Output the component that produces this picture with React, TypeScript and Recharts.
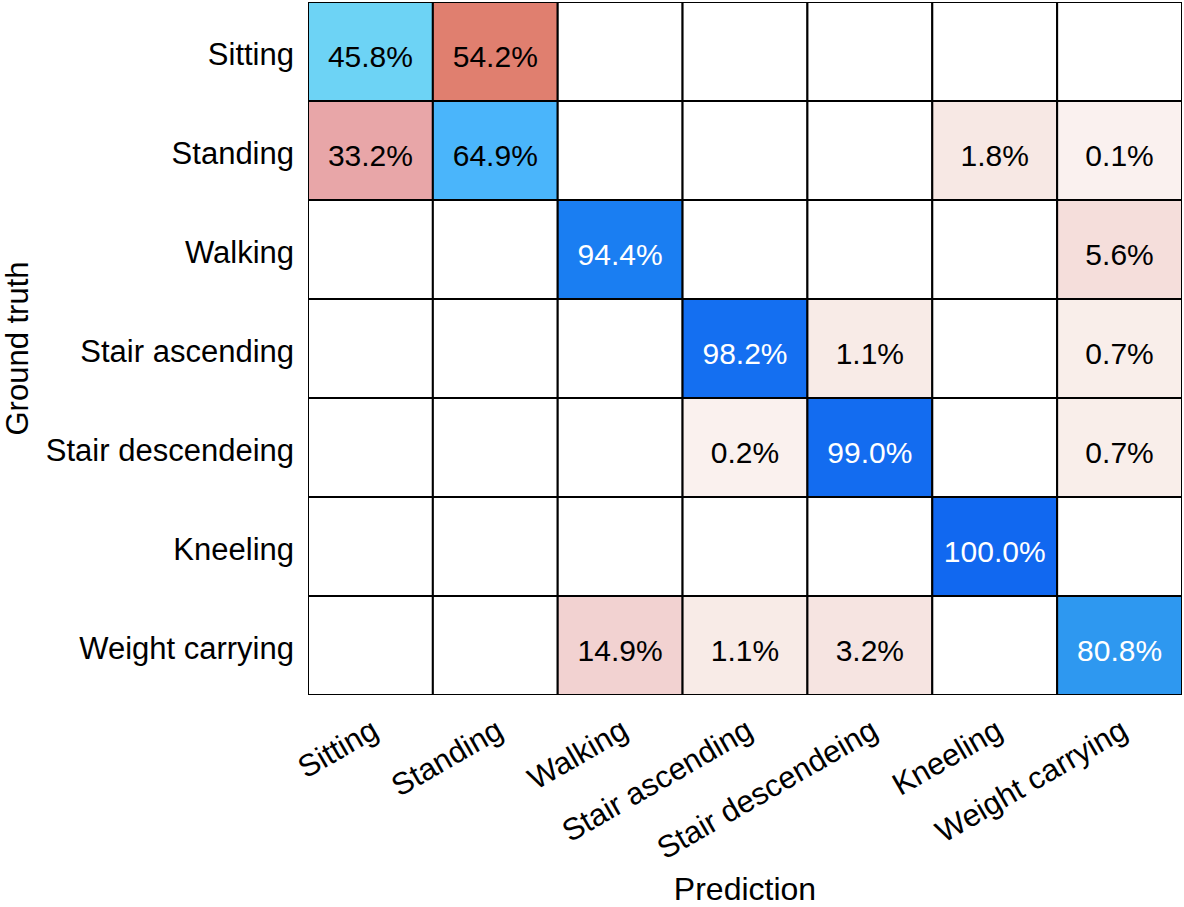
import { ScatterChart, Scatter, XAxis, YAxis } from "recharts";

const activities = [
  "Sitting",
  "Standing",
  "Walking",
  "Stair ascending",
  "Stair descendeing",
  "Kneeling",
  "Weight carrying",
];

// rows = ground truth, columns = prediction (null = empty cell)
const sitting = [45.8, 54.2, null, null, null, null, null];
const standing = [33.2, 64.9, null, null, null, 1.8, 0.1];
const walking = [null, null, 94.4, null, null, null, 5.6];
const stairAscending = [null, null, null, 98.2, 1.1, null, 0.7];
const stairDescending = [null, null, null, 0.2, 99.0, null, 0.7];
const kneeling = [null, null, null, null, null, 100.0, null];
const weightCarrying = [null, null, 14.9, 1.1, 3.2, null, 80.8];

const rows = [sitting, standing, walking, stairAscending, stairDescending, kneeling, weightCarrying];

const axisTicks = [0.5, 1.5, 2.5, 3.5, 4.5, 5.5, 6.5];

const W = 1184;
const H = 907;
const LEFT = 308;
const TOP = 2;
const RIGHT = 2;
const BOTTOM = 212;
const CELL_W = (W - LEFT - RIGHT) / 7;
const CELL_H = (H - TOP - BOTTOM) / 7;
const FONT = "'Liberation Sans', Arial, Helvetica, sans-serif";

const blueStops: [number, string][] = [
  [45.8, "#6dd3f5"],
  [64.9, "#4ab5fb"],
  [80.8, "#2e98f0"],
  [94.4, "#1a7ef2"],
  [100, "#1168f0"],
];
const redStops: [number, string][] = [
  [0, "#faf2f0"],
  [1.1, "#f8ebe7"],
  [1.8, "#f7e8e4"],
  [5.6, "#f5dedb"],
  [14.9, "#f2d2d1"],
  [33.2, "#e8a6a8"],
  [54.2, "#e07f6f"],
];

function hex(c: string) {
  return [1, 3, 5].map((i) => parseInt(c.slice(i, i + 2), 16));
}

function lerpColor(stops: [number, string][], v: number) {
  if (v <= stops[0][0]) return stops[0][1];
  for (let i = 1; i < stops.length; i++) {
    if (v <= stops[i][0]) {
      const [v0, c0] = stops[i - 1];
      const [v1, c1] = stops[i];
      const t = (v - v0) / (v1 - v0);
      const a = hex(c0);
      const b = hex(c1);
      const m = a.map((x, k) => Math.round(x + (b[k] - x) * t));
      return `rgb(${m[0]},${m[1]},${m[2]})`;
    }
  }
  return stops[stops.length - 1][1];
}

const cells = rows.flatMap((row, i) =>
  row.map((v, j) => ({ x: j + 0.5, y: i + 0.5, v, diag: i === j }))
);

function CellShape(props: any) {
  const { cx, cy, payload } = props;
  const v = payload.v;
  let fill = "#ffffff";
  if (v != null) fill = payload.diag ? lerpColor(blueStops, v) : lerpColor(redStops, v);
  return (
    <g>
      <rect
        x={cx - CELL_W / 2}
        y={cy - CELL_H / 2}
        width={CELL_W}
        height={CELL_H}
        fill={fill}
        stroke="#000"
        strokeWidth={2}
      />
      {v != null && (
        <text
          x={cx}
          y={cy + 15}
          textAnchor="middle"
          fontSize={30}
          fontFamily={FONT}
          fill={v > 70 ? "#fff" : "#000"}
        >
          {v.toFixed(1)}%
        </text>
      )}
    </g>
  );
}

function XTick(props: any) {
  const { x, y, payload } = props;
  const ax = x + 10;
  const ay = y + 41;
  return (
    <text
      x={ax}
      y={ay}
      textAnchor="end"
      fontSize={31}
      fontFamily={FONT}
      fill="#000"
      transform={`rotate(-30, ${ax}, ${ay})`}
    >
      {activities[Math.floor(payload.value)]}
    </text>
  );
}

function YTick(props: any) {
  const { x, y, payload } = props;
  return (
    <text x={x - 14} y={y + 13} textAnchor="end" fontSize={31} fontFamily={FONT} fill="#000">
      {activities[Math.floor(payload.value)]}
    </text>
  );
}

export default function App() {
  return (
    <div style={{ position: "absolute", left: 0, top: 0, background: "#fff" }}>
      <ScatterChart
        width={W}
        height={H}
        margin={{ top: TOP, right: RIGHT, left: 0, bottom: 0 }}
      >
        <XAxis
          type="number"
          dataKey="x"
          domain={[0, 7]}
          ticks={axisTicks}
          interval={0}
          height={BOTTOM}
          axisLine={false}
          tickLine={false}
          tickSize={0}
          tickMargin={0}
          tick={<XTick />}
          allowDataOverflow
          label={{
            content: (p: any) => {
              const vb = p.viewBox;
              return (
                <text
                  x={vb.x + vb.width / 2}
                  y={vb.y + 205}
                  textAnchor="middle"
                  fontSize={32}
                  fontFamily={FONT}
                  fill="#000"
                >
                  Prediction
                </text>
              );
            },
          }}
        />
        <YAxis
          type="number"
          dataKey="y"
          domain={[0, 7]}
          ticks={axisTicks}
          interval={0}
          reversed
          width={LEFT}
          axisLine={false}
          tickLine={false}
          tickSize={0}
          tickMargin={0}
          tick={<YTick />}
          allowDataOverflow
          label={{
            content: (p: any) => {
              const vb = p.viewBox;
              const cy = vb.y + vb.height / 2;
              return (
                <text
                  x={28}
                  y={cy}
                  textAnchor="middle"
                  fontSize={31}
                  fontFamily={FONT}
                  fill="#000"
                  transform={`rotate(-90, 28, ${cy})`}
                >
                  Ground truth
                </text>
              );
            },
          }}
        />
        <Scatter data={cells} shape={<CellShape />} isAnimationActive={false} />
      </ScatterChart>
    </div>
  );
}
